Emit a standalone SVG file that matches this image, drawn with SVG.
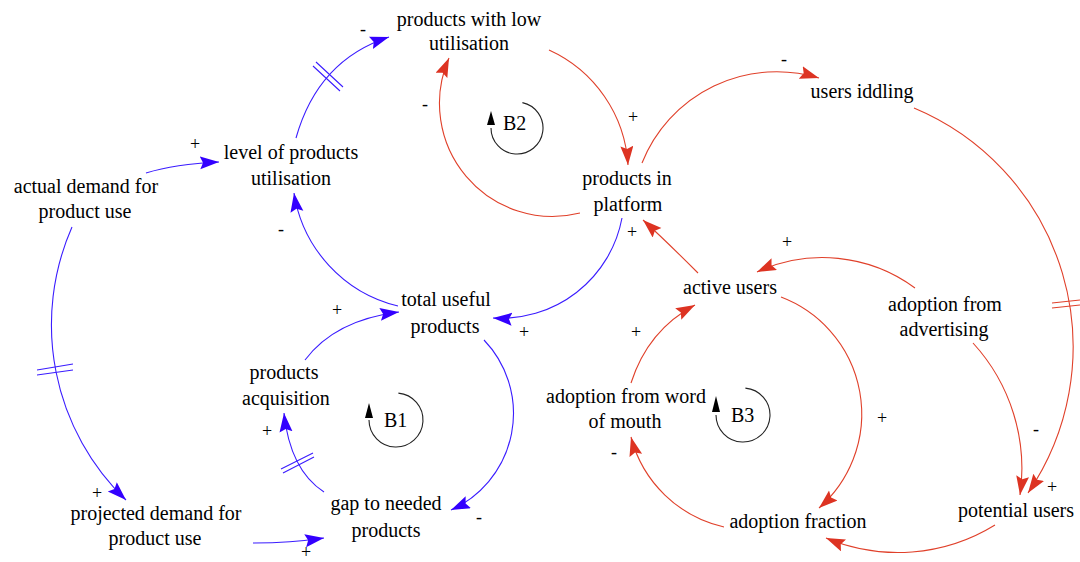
<svg xmlns="http://www.w3.org/2000/svg" width="1080" height="562" viewBox="0 0 1080 562">
<style>
text{font-family:"Liberation Serif","Times New Roman",serif}
.n{font-size:20px;text-anchor:middle}
.s{font-size:18px;text-anchor:middle}
.b{fill:none;stroke:#3a1cff;stroke-width:1.1;marker-end:url(#ab)}
.r{fill:none;stroke:#e0402a;stroke-width:1.1;marker-end:url(#ar)}
.db{fill:none;stroke:#3a1cff;stroke-width:1.1}
.dr{fill:none;stroke:#e0402a;stroke-width:1.1}
.loop{fill:none;stroke:#222;stroke-width:1.1}
.lt{font-size:20px}
</style>
<defs>
<marker id="ab" markerUnits="userSpaceOnUse" markerWidth="20" markerHeight="14" refX="19" refY="6.5" orient="auto">
<path d="M0,0 L19,6.5 L0,13 L3,6.5 Z" fill="#3300ff"/>
</marker>
<marker id="ar" markerUnits="userSpaceOnUse" markerWidth="20" markerHeight="14" refX="19" refY="6.5" orient="auto">
<path d="M0,0 L19,6.5 L0,13 L3,6.5 Z" fill="#dd3322"/>
</marker>
</defs>
<rect width="1080" height="562" fill="#fff"/>
<g font-family="Liberation Serif, serif" fill="#000">
<g id="connectors">
<path class="b" d="M146,173 Q175,164 219,162"/>
<path class="b" d="M296,138 Q318,60 389,37"/>
<path class="b" d="M398,306 A138,138 0 0 1 294,193"/>
<path class="b" d="M72,227 A243,243 0 0 0 126,500"/>
<path class="b" d="M253,543 Q290,543 324,538"/>
<path class="b" d="M484,340 A106,106 0 0 1 451,510"/>
<path class="b" d="M324,492 Q290,470 284,413"/>
<path class="b" d="M305,360 Q335,320 399,312"/>
<path class="b" d="M622,218 A123,123 0 0 1 493,318"/>
<path class="r" d="M549,50 A135,135 0 0 1 628,165"/>
<path class="r" d="M580,213 A113,113 0 0 1 449,58"/>
<path class="r" d="M642,163 A145,145 0 0 1 819,78"/>
<path class="r" d="M914,108 A259,259 0 0 1 1028,493"/>
<path class="r" d="M973,343 A186,186 0 0 1 1020,495"/>
<path class="r" d="M915,288 A156,156 0 0 0 757,272"/>
<path class="r" d="M698,273 Q665,240 643,220"/>
<path class="r" d="M631,383 Q648,330 695,305"/>
<path class="r" d="M781,297 A125,125 0 0 1 819,508"/>
<path class="r" d="M724,527 A124.5,124.5 0 0 1 631,437"/>
<path class="r" d="M995,525 A185,185 0 0 1 826,538"/>
<path class="db" d="M313,66 L340,91 M316,62 L343,87"/>
<path class="db" d="M37,370 L73,364 M37,375 L73,370"/>
<path class="db" d="M281,469 L313,453 M283,473 L314,457"/>
<path class="dr" d="M1052,303 L1080,300 M1052,308 L1080,305"/>
<g id="polarities">
<text class="s" x="363" y="35">-</text>
<text class="s" x="425" y="110">-</text>
<text class="s" x="195" y="150">+</text>
<text class="s" x="281" y="235">-</text>
<text class="s" x="633" y="123">+</text>
<text class="s" x="784" y="65">-</text>
<text class="s" x="632" y="238">+</text>
<text class="s" x="337" y="316">+</text>
<text class="s" x="524" y="338">+</text>
<text class="s" x="267" y="437">+</text>
<text class="s" x="97" y="499">+</text>
<text class="s" x="479" y="523">-</text>
<text class="s" x="306" y="558">+</text>
<text class="s" x="636" y="338">+</text>
<text class="s" x="787" y="248">+</text>
<text class="s" x="882" y="424">+</text>
<text class="s" x="614" y="458">-</text>
<text class="s" x="1036" y="435">-</text>
<text class="s" x="1052" y="493">+</text>
</g>
</g>

<g id="loop-B1">
<path class="loop" d="M398.4,393.1 A27,27 0 1 1 369,420"/>
<polygon points="365,418 373,418 369,403" fill="#000"/>
<text class="lt" x="384" y="427">B1</text>
</g>
<g id="loop-B2">
<path class="loop" d="M522.4,102.6 A26,26 0 1 1 491,128"/>
<polygon points="487,125 495,125 491,111" fill="#000"/>
<text class="lt" x="503" y="130">B2</text>
</g>
<g id="loop-B3">
<path class="loop" d="M745.4,388.1 A27,27 0 1 1 716,415"/>
<polygon points="712,412 720,412 716,396" fill="#000"/>
<text class="lt" x="731" y="422">B3</text>
</g>

<g id="products-with-low-utilisation"><text class="n" x="469" y="26">products with low</text><text class="n" x="469" y="50">utilisation</text></g>
<g id="level-of-products-utilisation"><text class="n" x="291" y="159">level of products</text><text class="n" x="291" y="185">utilisation</text></g>
<g id="actual-demand"><text class="n" x="86" y="193">actual demand for</text><text class="n" x="85" y="218">product use</text></g>
<g id="products-in-platform"><text class="n" x="627" y="185">products in</text><text class="n" x="628" y="211">platform</text></g>
<g id="users-iddling"><text class="n" x="862" y="98">users iddling</text></g>
<g id="total-useful-products"><text class="n" x="446" y="306">total useful</text><text class="n" x="445" y="333">products</text></g>
<g id="active-users"><text class="n" x="730" y="294">active users</text></g>
<g id="adoption-from-advertising"><text class="n" x="945" y="311">adoption from</text><text class="n" x="944" y="336">advertising</text></g>
<g id="products-acquisition"><text class="n" x="284" y="379">products</text><text class="n" x="286" y="405">acquisition</text></g>
<g id="adoption-from-word-of-mouth"><text class="n" x="626" y="403">adoption from word</text><text class="n" x="625" y="428">of mouth</text></g>
<g id="gap-to-needed-products"><text class="n" x="386" y="510">gap to needed</text><text class="n" x="386" y="537">products</text></g>
<g id="projected-demand"><text class="n" x="156" y="520">projected demand for</text><text class="n" x="155" y="545">product use</text></g>
<g id="adoption-fraction"><text class="n" x="798" y="528">adoption fraction</text></g>
<g id="potential-users"><text class="n" x="1016" y="517">potential users</text></g>
</g>
</svg>
